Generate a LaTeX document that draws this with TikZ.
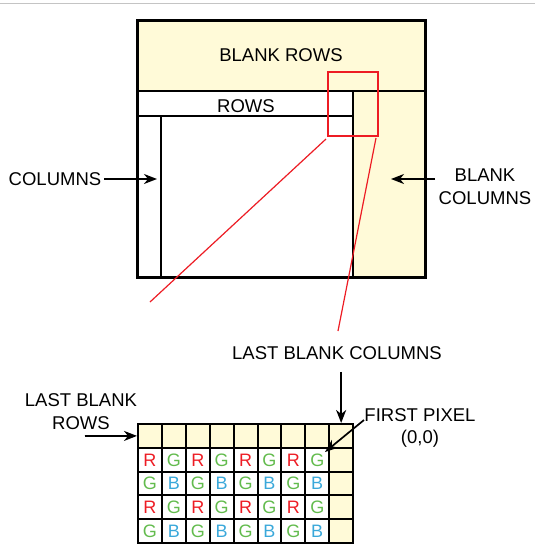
\documentclass[tikz,border=0pt]{standalone}
\usepackage{fontspec}
\setmainfont{Liberation Sans}
\usetikzlibrary{arrows.meta}
\definecolor{blankfill}{RGB}{255,250,216}
\definecolor{zoomred}{RGB}{237,28,36}
\definecolor{bayergreen}{RGB}{98,187,77}
\definecolor{bayerblue}{RGB}{58,168,218}
\definecolor{rulegray}{RGB}{196,196,196}
\begin{document}
\begin{tikzpicture}[x=1pt,y=-1pt,
  lbl/.style={font=\fontsize{18.5}{22.5}\selectfont, inner sep=0pt, align=center},
  capline/.style={text height=13.2pt, text depth=0pt},
  pointer/.style={-{Stealth[length=13pt,width=10pt,inset=4pt]}, line width=1.7pt},
  frame/.style={line width=3pt},
  divider/.style={line width=1.4pt},
  zoomline/.style={zoomred, line width=1.2pt},
  cell/.style={draw, line width=2pt, minimum width=23.9pt, minimum height=23.8pt,
    inner sep=0pt, font=\fontsize{18}{20}\selectfont, text height=12.9pt, text depth=0pt},
  blankcell/.style={cell, fill=blankfill}]
\useasboundingbox (0,0) rectangle (535,544);

% header rule
\draw[rulegray, line width=1.5pt] (0,3.5) -- (535,3.5);

% sensor frame: blank rows on top, blank columns on the right
\fill[blankfill] (137,20.5) rectangle (425,277);
\fill[white] (137,91) rectangle (353,277);
\draw[divider] (137,91) -- (425,91);
\draw[divider] (137,116) -- (353,116);
\draw[divider] (353,91) -- (353,277);
\draw[divider] (161,116) -- (161,277);
\draw[frame] (137,20.5) rectangle (425,277);

% magnified corner
\draw[zoomred, line width=2pt] (328,72) rectangle (377.5,135.5);
\coordinate (zoomA) at (326,139);
\coordinate (zoomB) at (376,138);
\coordinate (zoomAend) at (150,302);
\coordinate (zoomBend) at (338,331);
\draw[zoomline] (zoomA) -- (zoomAend);
\draw[zoomline] (zoomB) -- (zoomBend);

% labels of the frame
\node[lbl,capline] (blankrows) at (281,55) {BLANK ROWS};
\node[lbl,capline] (rows) at (246,105.5) {ROWS};
\node[lbl,capline] (columns) at (55,179) {COLUMNS};
\node[lbl] (blankcols) at (485,186.7) {BLANK\\COLUMNS};
\node[lbl,capline] (lastcols) at (337,353) {LAST BLANK COLUMNS};
\node[lbl] (lastrows) at (81,411.6) {LAST BLANK\\ROWS};
\node[lbl] (firstpix) at (420,427.8) {FIRST PIXEL\\(0,0)};

% pixel array
\foreach \c in {1,...,9}
  \node[blankcell] (c-1-\c) at ({138+(\c-0.5)*23.9},{424+0.5*23.8}) {};
\foreach \r/\ta/\tb/\ca/\cb in {2/R/G/zoomred/bayergreen, 3/G/B/bayergreen/bayerblue,
                               4/R/G/zoomred/bayergreen, 5/G/B/bayergreen/bayerblue}{
  \foreach \c in {1,3,5,7}
    \node[cell, text=\ca] (c-\r-\c) at ({138+(\c-0.5)*23.9},{424+(\r-0.5)*23.8}) {\ta};
  \foreach \c in {2,4,6,8}
    \node[cell, text=\cb] (c-\r-\c) at ({138+(\c-0.5)*23.9},{424+(\r-0.5)*23.8}) {\tb};
  \node[blankcell] (c-\r-9) at ({138+8.5*23.9},{424+(\r-0.5)*23.8}) {};
}

% pointers
\coordinate (colTip) at (157,179);
\draw[pointer, shorten <=3pt] (columns.east) -- (colTip);
\coordinate (bcTip) at (391,179);
\draw[pointer, shorten <=3.5pt] (blankcols.west |- bcTip) -- (bcTip);
\draw[pointer, shorten <=12pt] (c-1-9.north |- lastcols.south) -- (c-1-9.north);
\coordinate (lrTail) at (85,436);
\draw[pointer] (lrTail) -- (c-1-1.west);
\coordinate (fpTail) at (364,420);
\coordinate (fpTip) at (325,452);
\draw[pointer] (fpTail) -- (fpTip);
\end{tikzpicture}
\end{document}
